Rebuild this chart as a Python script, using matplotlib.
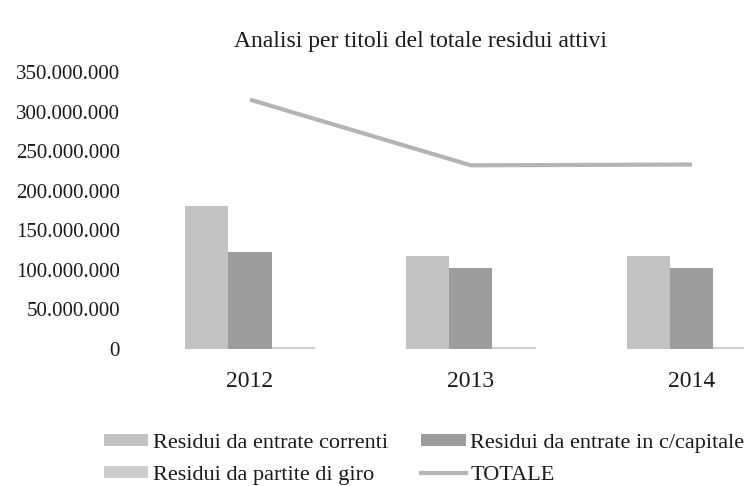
import matplotlib
matplotlib.use("Agg")
import matplotlib.pyplot as plt
from matplotlib.ticker import FuncFormatter
from matplotlib.patches import Patch
from matplotlib.lines import Line2D
import numpy as np

plt.rcParams['font.family'] = ['Liberation Serif', 'DejaVu Serif']

# ---------- data ----------
years = ["2012", "2013", "2014"]
correnti = [181_000_000, 117_000_000, 118_000_000]
capitale = [122_000_000, 102_000_000, 102_000_000]
partite_giro = [2_500_000, 2_500_000, 2_500_000]
totale = [315_000_000, 232_000_000, 233_000_000]

series_names = ["Residui da entrate correnti", "Residui da entrate in c/capitale",
                "Residui da partite di giro", "TOTALE"]

# ---------- style ----------
C_CORR = "#c2c2c2"
C_CAP = "#9c9c9c"
C_GIRO = "#cdcdcd"
C_TOT = "#b4b4b4"
TXT = "#1a1a1a"

fig = plt.figure(figsize=(7.44, 4.86), dpi=100)
fig.patch.set_facecolor("white")
# plot area deliberately runs past the right edge (reference is cropped)
ax = fig.add_axes([0.1875, 0.282, 0.891, 0.570])

x = np.arange(len(years))
w = 0.195
ax.bar(x - w, correnti, w, color=C_CORR, linewidth=0)
ax.bar(x, capitale, w, color=C_CAP, linewidth=0)
ax.bar(x + w, partite_giro, w, color=C_GIRO, linewidth=0)
ax.plot(x, totale, color=C_TOT, linewidth=3, solid_capstyle="butt")

ax.set_xlim(-0.5, 2.5)
ax.set_ylim(0, 350_000_000)
ax.set_yticks(np.arange(0, 350_000_001, 50_000_000))
ax.yaxis.set_major_formatter(FuncFormatter(lambda v, p: f"{int(v):,}".replace(",", ".")))
ax.set_xticks(x)
ax.set_xticklabels(years)
for sp in ax.spines.values():
    sp.set_visible(False)
ax.tick_params(axis="y", length=0, pad=14, labelsize=15, colors=TXT)
ax.tick_params(axis="x", length=0, pad=16, labelsize=17, colors=TXT)

fig.text(420 / 744, 1 - 42 / 486, "Analisi per titoli del totale residui attivi",
         ha="center", va="center", fontsize=17, color=TXT)

handles = [Patch(facecolor=C_CORR), Patch(facecolor=C_GIRO),
           Patch(facecolor=C_CAP), Line2D([0], [0], color=C_TOT, linewidth=3)]
labels = [series_names[0], series_names[2], series_names[1], series_names[3]]
fig.legend(handles, labels, ncol=2, loc="upper left", bbox_to_anchor=(84 / 744, 1 - 414 / 486),
           frameon=False, fontsize=16, handlelength=2.0, handleheight=0.45,
           handletextpad=0.2, columnspacing=1.5, labelspacing=0.6, labelcolor=TXT)

fig.savefig("out.png", dpi=100, facecolor="white")
